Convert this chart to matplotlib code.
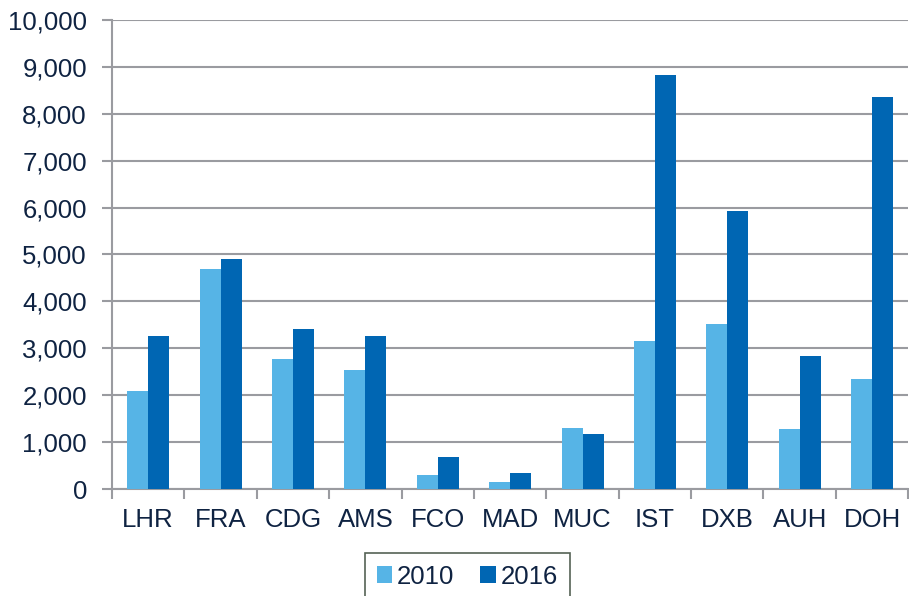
import matplotlib.pyplot as plt
import numpy as np

plt.rcParams['font.family'] = ['Liberation Sans', 'DejaVu Sans']

airports = ["LHR", "FRA", "CDG", "AMS", "FCO", "MAD", "MUC", "IST", "DXB", "AUH", "DOH"]
vals_2010 = [2080, 4690, 2770, 2545, 300, 150, 1300, 3160, 3520, 1280, 2350]
vals_2016 = [3255, 4910, 3420, 3255, 680, 340, 1175, 8835, 5930, 2835, 8360]

c2010 = '#56b4e6'
c2016 = '#0066b3'
txt = '#0f2342'
grid_c = '#9a9ba0'

fig = plt.figure(figsize=(9.09, 5.96), dpi=100)
ax = fig.add_axes([0.1232, 0.1795, 0.876, 0.787])

x = np.arange(len(airports))
w = 0.29
ax.bar(x - w / 2, vals_2010, w, color=c2010, label='2010', zorder=3)
ax.bar(x + w / 2, vals_2016, w, color=c2016, label='2016', zorder=3)

ax.set_xlim(-0.5, len(airports) - 0.5)
ax.set_ylim(0, 10000)
ax.set_yticks(range(0, 10001, 1000))
ax.set_yticklabels([f"{v:,}" for v in range(0, 10001, 1000)])
ax.set_xticks(x)
ax.set_xticklabels(airports)
ax.set_xticks(np.arange(-0.5, len(airports), 1), minor=True)
ax.tick_params(axis='x', which='major', length=0, pad=14, labelsize=18.5, labelcolor=txt)
ax.tick_params(axis='x', which='minor', length=7, width=1.5, color=grid_c)
ax.tick_params(axis='y', length=7, width=1.5, color=grid_c, labelsize=18.5, labelcolor=txt, pad=11)

ax.yaxis.grid(True, color=grid_c, linewidth=1.5, zorder=0)
ax.set_axisbelow(True)
for s in ['top', 'right']:
    ax.spines[s].set_visible(False)
for s in ['left', 'bottom']:
    ax.spines[s].set_color(grid_c)
    ax.spines[s].set_linewidth(1.5)

leg = fig.legend(loc='upper center', bbox_to_anchor=(0.514, 1 - 553 / 596), ncol=2,
                 fontsize=18.5, frameon=True, fancybox=False, handlelength=0.6,
                 handleheight=0.6, handletextpad=0.2, columnspacing=1.0,
                 borderpad=0.45, borderaxespad=0, labelcolor=txt)
leg.get_frame().set_edgecolor('#2a3a2a')
leg.get_frame().set_linewidth(1.2)

fig.savefig('out.png', dpi=100)
